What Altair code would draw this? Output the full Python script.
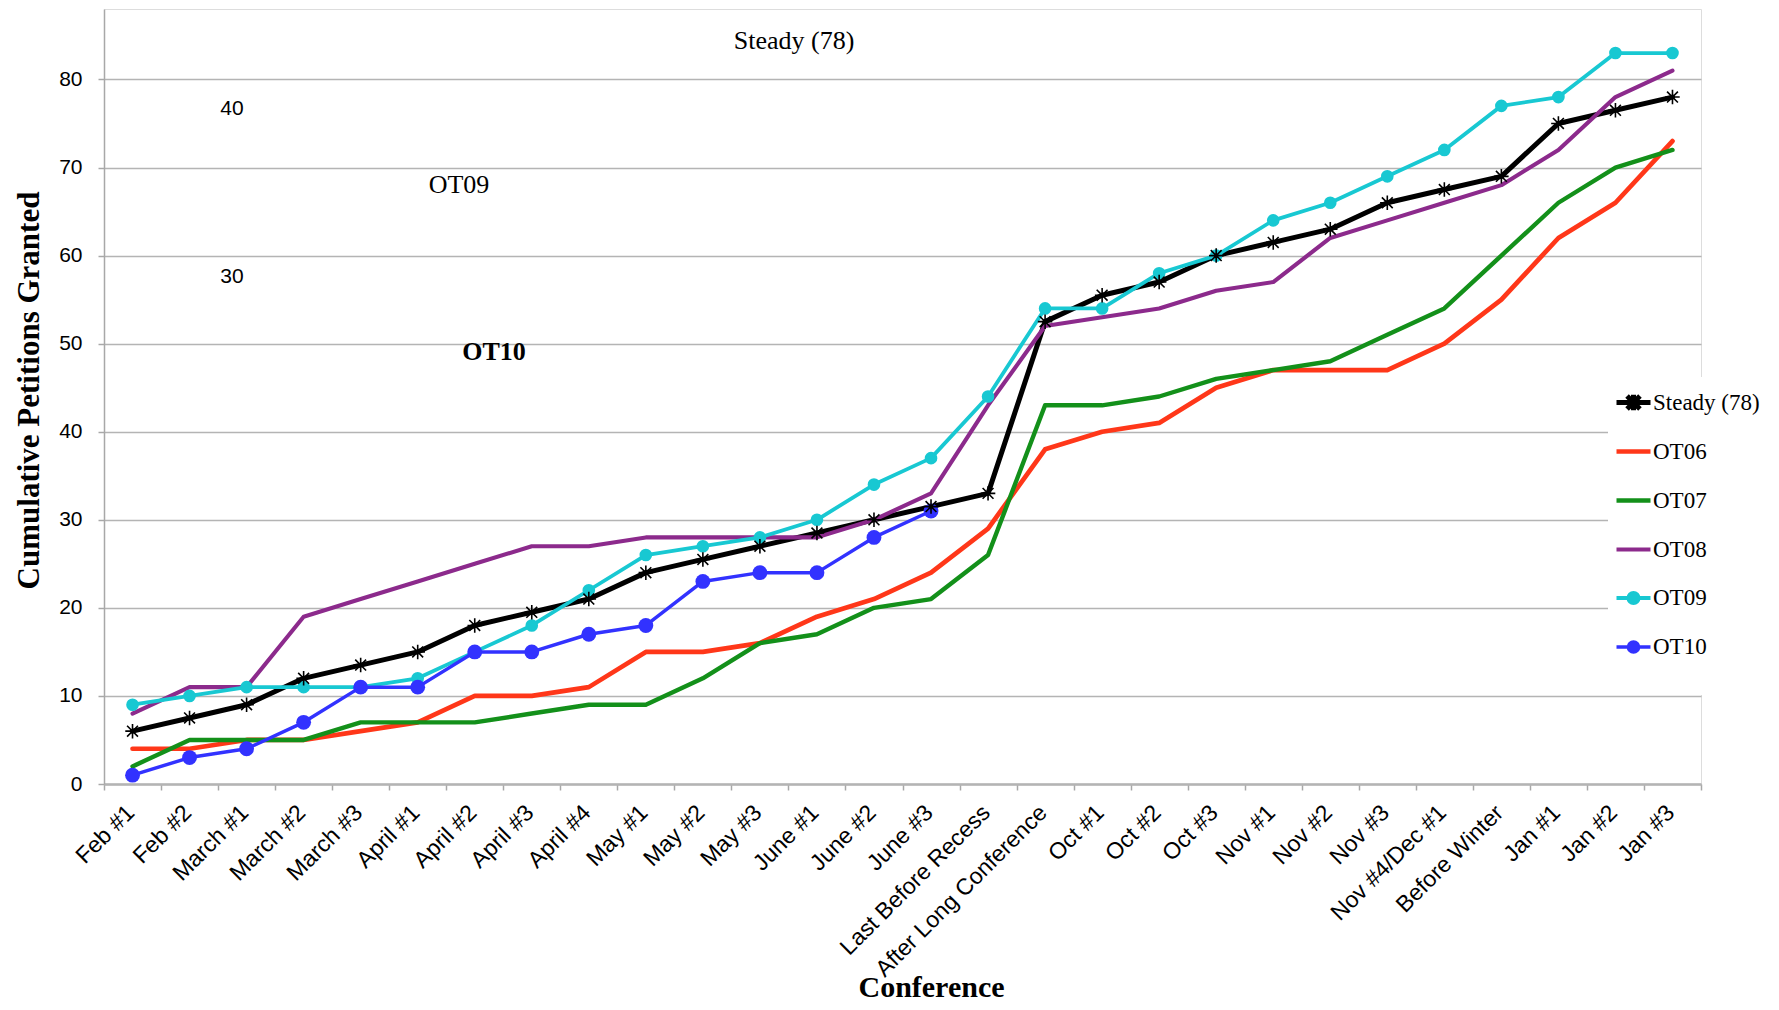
import altair as alt
import pandas as pd

categories = ["Feb #1", "Feb #2", "March #1", "March #2", "March #3", "April #1", "April #2",
              "April #3", "April #4", "May #1", "May #2", "May #3", "June #1", "June #2",
              "June #3", "Last Before Recess", "After Long Conference", "Oct #1", "Oct #2",
              "Oct #3", "Nov #1", "Nov #2", "Nov #3", "Nov #4/Dec #1", "Before Winter",
              "Jan #1", "Jan #2", "Jan #3"]

steady = [6, 7.5, 9, 12, 13.5, 15, 18, 19.5, 21, 24, 25.5, 27, 28.5, 30, 31.5, 33,
          52.5, 55.5, 57, 60, 61.5, 63, 66, 67.5, 69, 75, 76.5, 78]
ot06 = [4, 4, 5, 5, 6, 7, 10, 10, 11, 15, 15, 16, 19, 21, 24, 29,
        38, 40, 41, 45, 47, 47, 47, 50, 55, 62, 66, 73]
ot07 = [2, 5, 5, 5, 7, 7, 7, 8, 9, 9, 12, 16, 17, 20, 21, 26,
        43, 43, 44, 46, 47, 48, 51, 54, 60, 66, 70, 72]
ot08 = [8, 11, 11, 19, 21, 23, 25, 27, 27, 28, 28, 28, 28, 30, 33, 43,
        52, 53, 54, 56, 57, 62, 64, 66, 68, 72, 78, 81]
ot09 = [9, 10, 11, 11, 11, 12, 15, 18, 22, 26, 27, 28, 30, 34, 37, 44,
        54, 54, 58, 60, 64, 66, 69, 72, 77, 78, 83, 83]
ot10 = [1, 3, 4, 7, 11, 11, 15, 15, 17, 18, 23, 24, 24, 28, 31]

series_names = ["Steady (78)", "OT06", "OT07", "OT08", "OT09", "OT10"]
series_values = [steady, ot06, ot07, ot08, ot09, ot10]
series_colors = ["#000000", "#ff3719", "#13901a", "#8c2a8c", "#18c8d2", "#3232ff"]
series_widths = [5, 3.5, 3.5, 3.5, 3.5, 5.5]

y_ticks = [0, 10, 20, 30, 40, 50, 60, 70, 80]
annotation_texts = ["Steady (78)", "40", "OT09", "30", "OT10"]

rows = []
for name, vals in zip(series_names, series_values):
    for cat, v in zip(categories, vals):
        rows.append({"conference": cat, "value": v, "series": name})
df = pd.DataFrame(rows)

W, H = 1597, 775

x_enc = alt.X(
    "conference:N", sort=categories, bandPosition=0.5,
    scale=alt.Scale(type="band", paddingInner=0, paddingOuter=0),
    axis=alt.Axis(
        title="Conference", labelAngle=-45, labelAlign="right", labelBaseline="top",
        labelPadding=11, labelOffset=-10, labelFont="Liberation Sans", labelFontSize=23,
        labelColor="black", labelLimit=0, labelOverlap=False, tickBand="extent", tickSize=6,
        tickColor="#a8a8a8", tickWidth=1.5, domainColor="#b4b4b4", domainWidth=2.5, grid=False,
        titleFont="Liberation Serif", titleFontWeight="bold", titleFontSize=30,
        titleColor="black", titleX=827, titleY=212, titleBaseline="alphabetic", titleAlign="center",
    ),
)
y_enc = alt.Y(
    "value:Q", scale=alt.Scale(domain=[0, 88], nice=False, zero=True),
    axis=alt.Axis(
        values=y_ticks, title="Cumulative Petitions Granted", titleFont="Liberation Serif",
        titleFontWeight="bold", titleFontSize=31, titleColor="black", titleAngle=-90,
        titleX=-75, titleY=381, titleBaseline="middle", titleAlign="center",
        labelFont="Liberation Sans", labelFontSize=21, labelColor="black", labelPadding=16,
        tickSize=6, tickColor="#a8a8a8", tickWidth=1.5, domainColor="#a8a8a8", domainWidth=1.5,
        grid=True, gridColor="#b4b4b4", gridWidth=1.5,
    ),
)

STAR_LINE = "M-1,0H1M-0.38,-0.38L0.38,0.38M-0.38,0.38L0.38,-0.38M0,-0.45V0.45"
DOT_LINE = ("M-1,0H1"
            "M-0.3,0A0.3,0.3,0,1,0,0.3,0A0.3,0.3,0,1,0,-0.3,0Z"
            "M-0.2,0A0.2,0.2,0,1,0,0.2,0A0.2,0.2,0,1,0,-0.2,0Z"
            "M-0.1,0A0.1,0.1,0,1,0,0.1,0A0.1,0.1,0,1,0,-0.1,0Z")

shape_expr = ("datum.value === 'Steady (78)' ? '" + STAR_LINE + "' : "
              "(datum.value === 'OT09' || datum.value === 'OT10') ? '" + DOT_LINE + "' : 'M-1,0H1'")
width_expr = "(datum.value === 'Steady (78)' || datum.value === 'OT10') ? 4.5 : 3"

legend = alt.Legend(
    title=".", titleOrient="bottom", titleColor="white", titleFontSize=20, titlePadding=10,
    orient="none", legendX=1504, legendY=368, fillColor="white", padding=6,
    symbolType=alt.ExprRef(expr=shape_expr), symbolSize=1156,
    symbolStrokeWidth=alt.ExprRef(expr=width_expr), rowPadding=11, gridAlign="all",
    labelFont="Liberation Serif", labelFontSize=23, labelColor="black", labelOffset=0,
    labelLimit=0,
)

color_enc = alt.Color("series:N", sort=series_names,
                      scale=alt.Scale(domain=series_names, range=series_colors), legend=legend)

lines = alt.Chart(df).mark_line(strokeJoin="round", strokeCap="round").encode(
    x=x_enc, y=y_enc, color=color_enc,
    strokeWidth=alt.StrokeWidth("series:N", scale=alt.Scale(domain=series_names, range=series_widths),
                                legend=None),
    detail="series:N",
)

dots = alt.Chart(df).transform_filter(
    alt.FieldOneOfPredicate(field="series", oneOf=["OT09", "OT10"])
).mark_point(filled=True, shape="circle", opacity=1).encode(
    x=x_enc, y=y_enc, color=color_enc,
    size=alt.Size("series:N", scale=alt.Scale(domain=["OT09", "OT10"], range=[160, 220]), legend=None),
)

stars = alt.Chart(df).transform_filter(
    alt.FieldEqualPredicate(field="series", equal="Steady (78)")
).mark_point(shape="M-1,0H1M0,-1V1M-0.75,-0.75L0.75,0.75M-0.75,0.75L0.75,-0.75",
             filled=False, color="black", strokeWidth=1.6, size=210, opacity=1).encode(
    x=x_enc, y=y_enc,
)

def note(text, px, py, font, size, weight="normal"):
    return alt.Chart(pd.DataFrame({"t": [text]})).mark_text(
        font=font, fontSize=size, fontWeight=weight, color="black", align="center", baseline="middle"
    ).encode(text="t:N", x=alt.value(px), y=alt.value(py))

notes = [
    note(annotation_texts[0], 690, 32, "Liberation Serif", 26),
    note(annotation_texts[1], 128, 100, "Liberation Sans", 21),
    note(annotation_texts[2], 355, 176, "Liberation Serif", 26),
    note(annotation_texts[3], 128, 268, "Liberation Sans", 21),
    note(annotation_texts[4], 390, 343, "Liberation Serif", 26, "bold"),
]

chart = alt.layer(lines, dots, stars, *notes).properties(
    width=W, height=H,
    autosize=alt.AutoSizeParams(type="none"),
    padding={"left": 96, "top": 1, "right": 70, "bottom": 218},
).configure_view(stroke=None).configure(background="white")

chart.save("out.html", embed_options={"renderer": "svg", "actions": False})
